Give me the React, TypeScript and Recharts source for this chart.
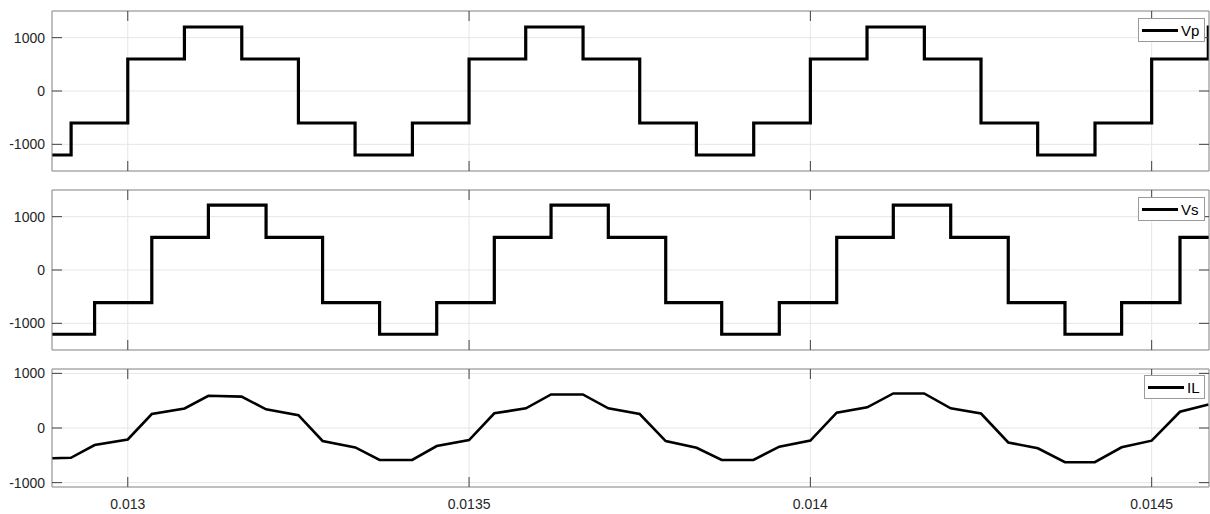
import React from 'react';
import { LineChart, Line, XAxis, YAxis, CartesianGrid, Legend } from 'recharts';

// time axis (s)
const xTicks = [0.013, 0.0135, 0.014, 0.0145];
const xDomain = [0.012889, 0.014584];
const vTicks = [-1000, 0, 1000];

// primary voltage: step start times and levels
const vpTimes = [
  0.012833, 0.012917, 0.013, 0.013083, 0.013167, 0.01325, 0.013333, 0.013417,
  0.0135, 0.013583, 0.013667, 0.01375, 0.013833, 0.013917, 0.014, 0.014083,
  0.014167, 0.01425, 0.014333, 0.014417, 0.0145, 0.014583, 0.014667,
];
const vpLevels = [
  -1200, -600, 600, 1200, 600, -600, -1200, -600,
  600, 1200, 600, -600, -1200, -600, 600, 1200,
  600, -600, -1200, -600, 600, 1200, 600,
];

// secondary voltage: step start times and levels
const vsTimes = [
  0.012785, 0.0129514, 0.0130352, 0.0131181, 0.0132026, 0.0132854, 0.0133689, 0.0134526,
  0.013537, 0.0136201, 0.013704, 0.0137881, 0.0138701, 0.0139545, 0.0140386, 0.0141215,
  0.0142056, 0.0142899, 0.014373, 0.014456, 0.0145415, 0.014625,
];
const vsLevels = [
  -1205, -610, 610, 1215, 610, -610, -1205, -610,
  610, 1215, 610, -610, -1205, -610, 610, 1215,
  610, -610, -1205, -610, 610, 1215,
];

// inductor current at each switching instant
const ilTimes = [
  0.012889, 0.0129167, 0.0129514, 0.013, 0.0130352, 0.0130833, 0.0131181, 0.0131667,
  0.0132026, 0.01325, 0.0132854, 0.0133333, 0.0133689, 0.0134167, 0.0134526, 0.0135,
  0.013537, 0.0135833, 0.0136201, 0.0136667, 0.013704, 0.01375, 0.0137881, 0.0138333,
  0.0138701, 0.0139167, 0.0139545, 0.014, 0.0140386, 0.0140833, 0.0141215, 0.0141667,
  0.0142056, 0.01425, 0.0142899, 0.0143333, 0.014373, 0.0144167, 0.014456, 0.0145,
  0.0145415, 0.0145833,
];
const ilValues = [
  -555, -545, -311, -210, 256, 358, 590, 575,
  342, 235, -238, -355, -585, -585, -330, -222,
  269, 360, 614, 614, 360, 256, -240, -362,
  -585, -585, -342, -230, 280, 378, 632, 632,
  360, 265, -265, -371, -627, -627, -353, -232,
  298, 432,
];

const toRows = (times: number[], vals: number[]) => times.map((t, i) => ({ t, v: vals[i] }));

const FONT = "'Liberation Sans', Arial, sans-serif";
const AXIS = '#8c8c8c';
const TICK = '#404040';
const GRID = '#e6e6e6';
const TL = 10;

const LeftTick = (props: any) => {
  const { x, y, payload } = props;
  return (
    <g>
      <line x1={x} y1={y} x2={x + TL} y2={y} stroke={TICK} />
      <text x={x - 7} y={y} dy={5} textAnchor="end" fontSize={14} fill="#262626" fontFamily={FONT}>
        {payload.value}
      </text>
    </g>
  );
};

const RightTick = (props: any) => (
  <line x1={props.x - TL} y1={props.y} x2={props.x} y2={props.y} stroke={TICK} />
);

const TopTick = (props: any) => (
  <line x1={props.x} y1={props.y} x2={props.x} y2={props.y + TL} stroke={TICK} />
);

const BottomTick = (props: any) => {
  const { x, y, payload, showLabel } = props;
  return (
    <g>
      <line x1={x} y1={y - TL} x2={x} y2={y} stroke={TICK} />
      {showLabel && (
        <text x={x} y={y + 22} textAnchor="middle" fontSize={14} fill="#262626" fontFamily={FONT}>
          {payload.value}
        </text>
      )}
    </g>
  );
};

function LegendBox({ name, width, height }: { name: string; width: number; height: number }) {
  return (
    <div
      style={{
        boxSizing: 'border-box',
        width,
        height,
        border: '1px solid #9a9a9a',
        background: '#fff',
        display: 'flex',
        alignItems: 'center',
        padding: '0 0 0 3px',
        fontFamily: FONT,
        fontSize: 15,
        color: '#000',
      }}
    >
      <div style={{ width: 36, height: 3, background: '#000' }} />
      <span style={{ marginLeft: 3 }}>{name}</span>
    </div>
  );
}

interface PanelProps {
  top: number;
  height: number;
  plotTop: number;
  plotHeight: number;
  yDomain: number[];
  rows: { t: number; v: number }[];
  name: string;
  stepped: boolean;
  lineWidth: number;
  showXLabels: boolean;
  legendLeft: number;
  legendTop: number;
  legendWidth: number;
  legendHeight: number;
}

function Panel(p: PanelProps) {
  const bottomH = p.showXLabels ? p.height - p.plotTop - p.plotHeight : 1;
  const bottomMargin = p.height - p.plotTop - p.plotHeight - bottomH;
  return (
    <div style={{ position: 'absolute', left: 0, top: p.top }}>
      <LineChart
        width={1210}
        height={p.height}
        margin={{ top: p.plotTop - 1, right: 0, bottom: bottomMargin, left: 0 }}
      >
        <CartesianGrid stroke={GRID} />
        <XAxis
          dataKey="t"
          type="number"
          domain={xDomain}
          ticks={xTicks}
          allowDataOverflow
          height={bottomH}
          tickSize={0}
          tickMargin={0}
          stroke={AXIS}
          tick={<BottomTick showLabel={p.showXLabels} />}
        />
        <XAxis
          xAxisId="top"
          orientation="top"
          dataKey="t"
          type="number"
          domain={xDomain}
          ticks={xTicks}
          allowDataOverflow
          height={1}
          tickSize={0}
          tickMargin={0}
          stroke={AXIS}
          tick={<TopTick />}
        />
        <YAxis
          type="number"
          domain={p.yDomain}
          ticks={vTicks}
          allowDataOverflow
          width={52}
          tickSize={0}
          tickMargin={0}
          stroke={AXIS}
          tick={<LeftTick />}
        />
        <YAxis
          yAxisId="right"
          orientation="right"
          type="number"
          domain={p.yDomain}
          ticks={vTicks}
          allowDataOverflow
          width={1}
          tickSize={0}
          tickMargin={0}
          stroke={AXIS}
          tick={<RightTick />}
        />
        <Legend
          verticalAlign="middle"
          align="center"
          layout="horizontal"
          wrapperStyle={{ left: p.legendLeft, top: p.legendTop, width: 'auto', height: 'auto' }}
          content={() => <LegendBox name={p.name} width={p.legendWidth} height={p.legendHeight} />}
        />
        <Line
          data={p.rows}
          dataKey="v"
          name={p.name}
          type={p.stepped ? 'stepAfter' : 'linear'}
          stroke="#000"
          strokeWidth={p.lineWidth}
          dot={false}
          activeDot={false}
          isAnimationActive={false}
        />
      </LineChart>
    </div>
  );
}

export default function App() {
  return (
    <div style={{ position: 'absolute', left: 0, top: 0, width: 1210, height: 514, background: '#fff' }}>
      <Panel
        top={0}
        height={180}
        plotTop={11}
        plotHeight={160}
        yDomain={[-1500, 1500]}
        rows={toRows(vpTimes, vpLevels)}
        name="Vp"
        stepped
        lineWidth={3.2}
        showXLabels={false}
        legendLeft={1138}
        legendTop={18}
        legendWidth={67}
        legendHeight={24}
      />
      <Panel
        top={180}
        height={180}
        plotTop={10}
        plotHeight={160}
        yDomain={[-1500, 1500]}
        rows={toRows(vsTimes, vsLevels)}
        name="Vs"
        stepped
        lineWidth={3.2}
        showXLabels={false}
        legendLeft={1138}
        legendTop={17}
        legendWidth={67}
        legendHeight={24}
      />
      <Panel
        top={360}
        height={154}
        plotTop={9}
        plotHeight={118}
        yDomain={[-1080, 1080]}
        rows={toRows(ilTimes, ilValues)}
        name="IL"
        stepped={false}
        lineWidth={2.6}
        showXLabels
        legendLeft={1144}
        legendTop={15}
        legendWidth={61}
        legendHeight={24}
      />
    </div>
  );
}
